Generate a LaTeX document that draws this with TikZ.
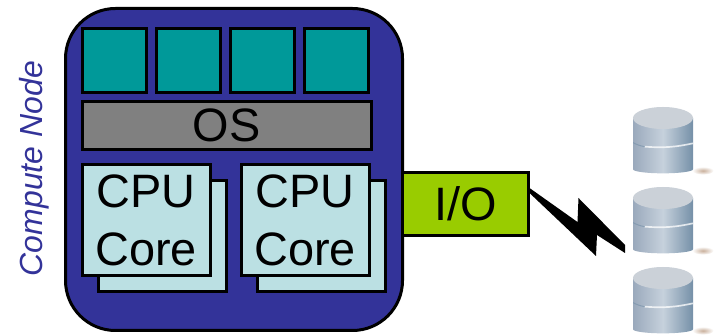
\documentclass[tikz,border=0pt]{standalone}
\usepackage{fontspec}
\setmainfont{Liberation Sans}
\usetikzlibrary{calc,positioning,backgrounds}

\definecolor{nodeblue}{HTML}{333399}
\definecolor{appteal}{HTML}{009999}
\definecolor{osgray}{HTML}{808080}
\definecolor{corelight}{HTML}{BBE0E3}
\definecolor{iogreen}{HTML}{99CC00}
\definecolor{diskdark}{HTML}{7590A8}
\definecolor{diskmid}{HTML}{C6D1DC}
\definecolor{diskedge}{HTML}{9AA9BC}
\definecolor{disktop}{HTML}{CBD1D8}
\definecolor{disksand}{HTML}{C9B09C}

\tikzset{
    blockbox/.style={draw=black, line width=0.09cm, outer sep=0pt, inner sep=0pt, align=center,
        font=\fontsize{40}{49.5}\selectfont},
    appbox/.style={blockbox, fill=appteal, minimum width=1.92cm, minimum height=1.92cm},
    corebox/.style={blockbox, fill=corelight, minimum width=3.84cm, minimum height=3.33cm},
    diskstack/.style={minimum width=1.8cm, minimum height=2cm, inner sep=0pt, outer sep=0pt,
        path picture={
            \shade[left color=diskedge, right color=diskdark, middle color=diskmid]
                ($(path picture bounding box.north west)+(0,-0.34)$) --
                ($(path picture bounding box.south west)+(0,0.12)$)
                arc[start angle=180, end angle=360, x radius=0.9cm, y radius=0.12cm] --
                ($(path picture bounding box.north east)+(0,-0.34)$) -- cycle;
            \fill[disktop] ($(path picture bounding box.north)+(0,-0.34)$) ellipse (0.9cm and 0.33cm);
            \draw[white, opacity=0.75, line width=0.05cm]
                ($(path picture bounding box.center)+(-0.55,-0.2)$) to[bend right=8] ($(path picture bounding box.center)+(0.9,-0.1)$);
            \draw[diskdark, opacity=0.6, line width=0.03cm]
                ($(path picture bounding box.center)+(-0.9,-0.08)$) to[bend right=8] ($(path picture bounding box.center)+(-0.55,-0.2)$);
        }},
}

\begin{document}
\begin{tikzpicture}
    \useasboundingbox (0,0) rectangle (21.42,10.08);

    \node [blockbox, fill=nodeblue, rounded corners=1.5cm, minimum width=10.11cm, minimum height=9.66cm] (computenode) at (7.02,4.995) {};

    \node [appbox, below right=0.6cm and 0.5cm of computenode.north west] (app1) {};
    \node [appbox, right=0.3cm of app1] (app2) {};
    \node [appbox, right=0.3cm of app2] (app3) {};
    \node [appbox, right=0.3cm of app3] (app4) {};

    \node [blockbox, fill=osgray, below right=0.27cm and 0cm of app1.south west, minimum width=8.67cm, minimum height=1.44cm] (os) {OS};

    \node [corebox, below right=0.93cm and 0.48cm of os.south west] (coreback1) {};
    \node [corebox, right=0.93cm of coreback1] (coreback2) {};
    \node [corebox, anchor=north west] (core1) at ($(coreback1.north west)+(-0.48,0.48)$) {CPU\\Core};
    \node [corebox, anchor=north west] (core2) at ($(coreback2.north west)+(-0.48,0.48)$) {CPU\\Core};

    \node [blockbox, fill=iogreen, anchor=west, minimum width=3.78cm, minimum height=1.89cm] (io) at ($(computenode.east)+(0,-1.035)$) {I/O};

    \node [diskstack] (disk2) at (19.89,3.48) {};
    \node [diskstack, above=0.4cm of disk2] (disk1) {};
    \node [diskstack, below=0.4cm of disk2] (disk3) {};

    \begin{scope}[on background layer]
        \foreach \d in {disk1,disk2,disk3} {
            \shade[inner color=disksand, outer color=white] ($(\d.south east)+(0.3,0.08)$) ellipse (0.32cm and 0.12cm);
        }
    \end{scope}

    % Lightning bolt
    \coordinate (boltio) at ($(io.east)+(0.03,0.48)$);
    \coordinate (boltdisk) at ($(disk2.west)+(-0.24,-0.75)$);
    \fill[black] (boltio) -- ++(1.44,-1.02) -- ++(0.03,0.72) -- (boltdisk) -- ++(0,-0.24) -- ++(-0.84,0.54) -- ++(-0.03,-0.63) -- ($(boltio)+(0,-0.15)$) -- cycle;

    \node [rotate=90, text=nodeblue, font=\fontsize{27.3}{30}\itshape\selectfont] (nodelabel) at (1.03,5.02) {Compute Node};
\end{tikzpicture}
\end{document}
